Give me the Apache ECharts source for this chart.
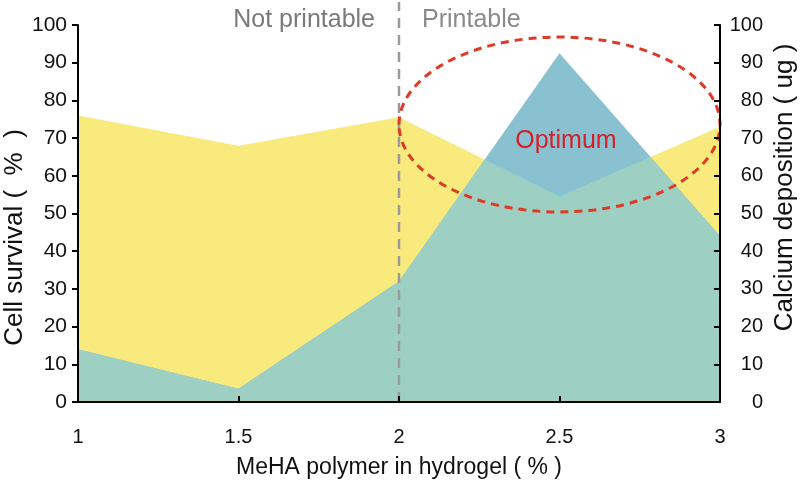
<!DOCTYPE html>
<html><head><meta charset="utf-8">
<script src="https://cdn.jsdelivr.net/npm/echarts@6/dist/echarts.min.js"></script>
<style>html,body{margin:0;padding:0;background:#fff}#c{width:800px;height:481px}</style>
</head><body><div id="c"></div>
<script>
// ---- data ----
const xValues = [1, 1.5, 2, 2.5, 3];
const xTickLabels = ['1', '1.5', '2', '2.5', '3'];
const cellSurvival = [76, 68, 75.5, 54.5, 73];          // left axis, %
const calciumDeposition = [14, 3.5, 32, 92.5, 44];      // right axis, ug
const printableBoundary = 2;
const optimumCenter = [2.5, 73.6];
const optimumRadii = [0.5, 23.2];
const optimumLabelAt = [2.52, 69.3];

const FONT = '"Liberation Sans", Arial, Helvetica, sans-serif';
const YELLOW = '#f8ea7c';
const BLUE = '#89c1d0';
const TEAL = '#9dd0c3';

const chart = echarts.init(document.getElementById('c'), null, {renderer: 'canvas'});

function areaPoints(api, ys) {
  const pts = xValues.map((x, i) => api.coord([x, ys[i]]));
  pts.push(api.coord([xValues[xValues.length - 1], 0]));
  pts.push(api.coord([xValues[0], 0]));
  return pts;
}

const option = {
  animation: false,
  backgroundColor: '#fff',
  grid: {left: 78, right: 80, top: 25, bottom: 79, containLabel: false, outerBoundsMode: 'none'},
  xAxis: {
    type: 'value', min: 1, max: 3, interval: 0.5, z: 10,
    axisLine: {show: true, lineStyle: {color: '#000', width: 2}},
    axisTick: {show: true, inside: true, length: 6, lineStyle: {color: '#000', width: 2}},
    splitLine: {show: false},
    axisLabel: {
      fontSize: 20, color: '#111', fontFamily: FONT, margin: 25,
      formatter: v => { const i = xValues.indexOf(v); return i >= 0 ? xTickLabels[i] : ''; }
    },
    name: 'MeHA polymer in hydrogel ( % )', nameLocation: 'middle', nameGap: 54, nameMoveOverlap: false,
    nameTextStyle: {fontSize: 23, color: '#111', fontFamily: FONT}
  },
  yAxis: [{
    type: 'value', position: 'left', min: 0, max: 100, interval: 10, z: 10,
    axisLine: {show: true, lineStyle: {color: '#000', width: 2}},
    axisTick: {show: true, length: 6, lineStyle: {color: '#000', width: 2}},
    splitLine: {show: false},
    axisLabel: {fontSize: 21, color: '#111', fontFamily: FONT, margin: 11},
    name: 'Cell survival (  %  )', nameLocation: 'middle', nameGap: 50, nameMoveOverlap: false,
    nameTextStyle: {fontSize: 26, color: '#111', fontFamily: FONT, padding: [0, 48, 0, 0]}
  }, {
    type: 'value', position: 'right', min: 0, max: 100, interval: 10, z: 10,
    axisLine: {show: true, lineStyle: {color: '#000', width: 2}},
    axisTick: {show: true, inside: true, length: 6, lineStyle: {color: '#000', width: 2}},
    splitLine: {show: false},
    axisLabel: {fontSize: 20, color: '#111', fontFamily: FONT, margin: 43, align: 'right'},
    name: 'Calcium deposition ( ug )', nameLocation: 'middle', nameGap: 52, nameMoveOverlap: false,
    nameTextStyle: {fontSize: 26, color: '#111', fontFamily: FONT, padding: [0, 0, 0, 52]}
  }],
  series: [{
    type: 'line', name: 'Cell survival', yAxisIndex: 0, z: 2,
    data: xValues.map((x, i) => [x, cellSurvival[i]]),
    showSymbol: false, symbol: 'none',
    lineStyle: {width: 0, color: YELLOW},
    itemStyle: {color: YELLOW},
    areaStyle: {color: YELLOW, opacity: 1}
  }, {
    type: 'line', name: 'Calcium deposition', yAxisIndex: 1, z: 3,
    data: xValues.map((x, i) => [x, calciumDeposition[i]]),
    showSymbol: false, symbol: 'none',
    lineStyle: {width: 0, color: BLUE},
    itemStyle: {color: BLUE},
    areaStyle: {color: BLUE, opacity: 1}
  }, {
    // overlap of the two areas
    type: 'custom', z: 4, xAxisIndex: 0, yAxisIndex: 0,
    data: [[xValues[0], 0]], encode: {x: 0, y: 1},
    renderItem: (params, api) => ({
      type: 'polygon',
      shape: {points: areaPoints(api, cellSurvival)},
      style: {fill: TEAL},
      clipPath: {type: 'polygon', shape: {points: areaPoints(api, calciumDeposition)}}
    })
  }, {
    // annotations
    type: 'custom', z: 6, xAxisIndex: 0, yAxisIndex: 0,
    data: [[printableBoundary, 0]], encode: {x: 0, y: 1},
    renderItem: (params, api) => {
      const bot = api.coord([printableBoundary, 0]);
      const top = api.coord([printableBoundary, 100]);
      const c = api.coord(optimumCenter);
      const r = api.size(optimumRadii);
      const lab = api.coord(optimumLabelAt);
      return {
        type: 'group',
        children: [{
          type: 'line',
          shape: {x1: bot[0], y1: bot[1], x2: bot[0], y2: top[1] - 23},
          style: {stroke: '#9a9a9a', lineWidth: 2.5, lineDash: [10, 7]}
        }, {
          type: 'ellipse',
          shape: {cx: c[0], cy: c[1], rx: r[0], ry: r[1]},
          style: {fill: null, stroke: '#dd3a27', lineWidth: 3, lineDash: [8, 6]}
        }, {
          type: 'text', x: bot[0] - 24, y: top[1] - 5,
          style: {text: 'Not printable', align: 'right', verticalAlign: 'middle', fill: '#7a7a7a', font: '25px ' + FONT}
        }, {
          type: 'text', x: bot[0] + 23, y: top[1] - 5,
          style: {text: 'Printable', align: 'left', verticalAlign: 'middle', fill: '#8a8a8a', font: '25px ' + FONT}
        }, {
          type: 'text', x: lab[0], y: lab[1],
          style: {text: 'Optimum', align: 'center', verticalAlign: 'middle', fill: '#d3202b', font: '25px ' + FONT}
        }]
      };
    }
  }]
};
chart.setOption(option);
</script>
</body></html>
